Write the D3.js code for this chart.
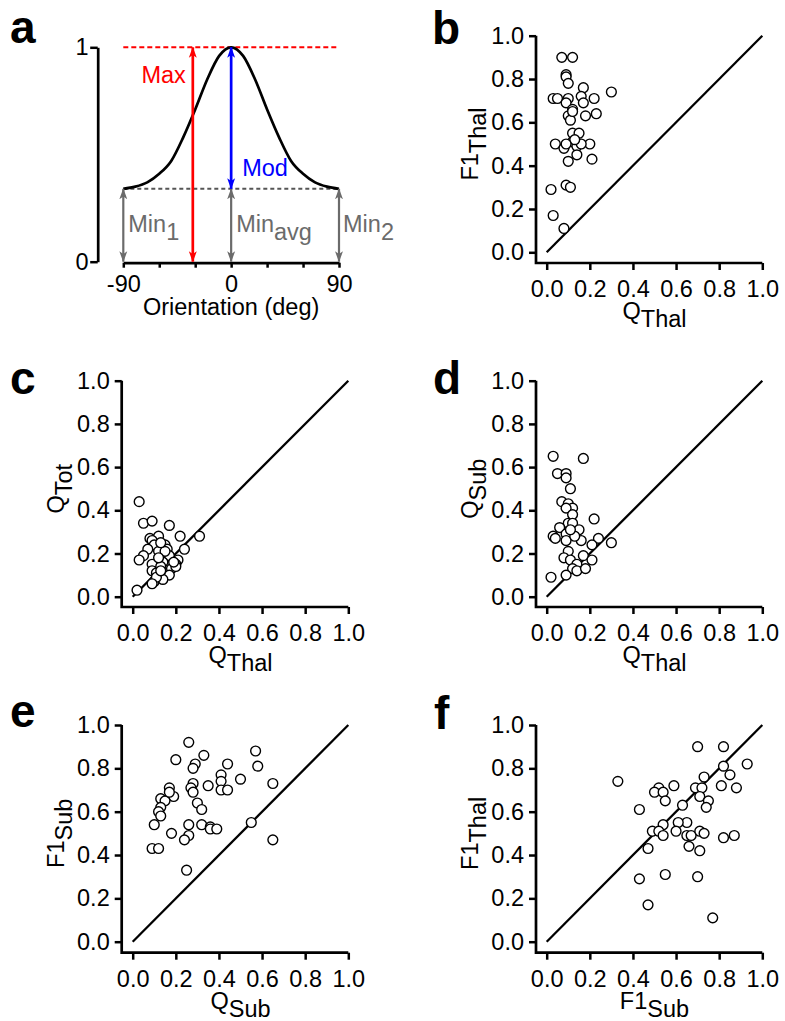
<!DOCTYPE html>
<html>
<head>
<meta charset="utf-8">
<script src="https://cdn.jsdelivr.net/npm/d3@7.9.0/dist/d3.min.js"></script>
<style>
  body { margin: 0; background: #fff; }
  svg { display: block; font-family: Arial, "Liberation Sans", Helvetica, sans-serif; }
</style>
</head>
<body>
<svg id="fig" width="785" height="1021"></svg>
<script>
// ------------------------------------------------------------------
// Data
// ------------------------------------------------------------------

// panel a: schematic tuning curve
const tuningAngles = [-90, -80, -70, -60, -50, -40, -30, -20, -10, 0, 10, 20, 30, 40, 50, 60, 70, 80, 90];
const tuningValues = [0.34, 0.35, 0.37, 0.41, 0.47, 0.58, 0.71, 0.85, 0.96, 1.0, 0.96, 0.85, 0.71, 0.58, 0.47, 0.41, 0.37, 0.35, 0.34];
const minLevel = 0.34;
const maxArrowAngle = -32;
const minArrowAngles = [-90, 0, 90];
const orientationTicks = [-90, -60, -30, 0, 30, 60, 90];
const orientationLabels = [-90, 0, 90];

const unitTicks = [0, 0.2, 0.4, 0.6, 0.8, 1.0];

// panel b: Q_Thal vs F1_Thal
const panelB = [
  [0.07, 0.90], [0.12, 0.90], [0.09, 0.82], [0.09, 0.81], [0.10, 0.78], [0.17, 0.76],
  [0.30, 0.74], [0.03, 0.71], [0.05, 0.71], [0.10, 0.71], [0.09, 0.69], [0.16, 0.72],
  [0.22, 0.71], [0.17, 0.69], [0.12, 0.66], [0.23, 0.64], [0.18, 0.63], [0.10, 0.63],
  [0.11, 0.61], [0.12, 0.55], [0.15, 0.55], [0.04, 0.50], [0.08, 0.48], [0.12, 0.51],
  [0.14, 0.49], [0.20, 0.50], [0.16, 0.50], [0.14, 0.45], [0.10, 0.42], [0.21, 0.43],
  [0.09, 0.31], [0.11, 0.30], [0.02, 0.29], [0.03, 0.17], [0.08, 0.11], [0.13, 0.52],
  [0.09, 0.50], [0.12, 0.65]
];

// panel c: Q_Thal vs Q_Tot
const panelC = [
  [0.03, 0.44], [0.05, 0.34], [0.09, 0.35], [0.17, 0.33], [0.22, 0.28], [0.31, 0.28],
  [0.08, 0.27], [0.12, 0.28], [0.09, 0.26], [0.15, 0.24], [0.10, 0.24], [0.07, 0.22],
  [0.24, 0.22], [0.16, 0.22], [0.12, 0.21], [0.05, 0.19], [0.03, 0.17], [0.09, 0.15],
  [0.17, 0.19], [0.14, 0.16], [0.21, 0.17], [0.20, 0.15], [0.13, 0.14], [0.09, 0.12],
  [0.11, 0.11], [0.18, 0.13], [0.20, 0.14], [0.17, 0.10], [0.10, 0.07], [0.14, 0.08],
  [0.11, 0.09], [0.09, 0.06], [0.02, 0.03], [0.13, 0.12], [0.15, 0.21], [0.13, 0.25],
  [0.19, 0.16], [0.12, 0.18]
];

// panel d: Q_Thal vs Q_Sub
const panelD = [
  [0.03, 0.65], [0.17, 0.64], [0.05, 0.57], [0.09, 0.57], [0.09, 0.55], [0.11, 0.50],
  [0.07, 0.44], [0.10, 0.43], [0.12, 0.41], [0.09, 0.41], [0.12, 0.38], [0.22, 0.36],
  [0.10, 0.34], [0.12, 0.34], [0.06, 0.32], [0.15, 0.31], [0.03, 0.28], [0.04, 0.27],
  [0.09, 0.29], [0.09, 0.26], [0.16, 0.26], [0.24, 0.27], [0.30, 0.25], [0.21, 0.24],
  [0.10, 0.21], [0.08, 0.18], [0.11, 0.17], [0.17, 0.19], [0.21, 0.17], [0.14, 0.15],
  [0.12, 0.13], [0.14, 0.12], [0.18, 0.13], [0.09, 0.10], [0.02, 0.09], [0.13, 0.28],
  [0.11, 0.31]
];

// panel e: Q_Sub vs F1_Sub
const panelE = [
  [0.26, 0.92], [0.33, 0.86], [0.57, 0.88], [0.20, 0.84], [0.29, 0.82], [0.28, 0.80],
  [0.44, 0.82], [0.58, 0.81], [0.41, 0.77], [0.50, 0.75], [0.41, 0.74], [0.65, 0.73],
  [0.28, 0.73], [0.27, 0.71], [0.35, 0.72], [0.17, 0.71], [0.41, 0.70], [0.44, 0.70],
  [0.28, 0.69], [0.19, 0.67], [0.13, 0.66], [0.15, 0.65], [0.17, 0.69], [0.30, 0.64],
  [0.13, 0.62], [0.32, 0.61], [0.12, 0.60], [0.13, 0.58], [0.10, 0.54], [0.26, 0.54],
  [0.32, 0.54], [0.36, 0.53], [0.36, 0.52], [0.39, 0.52], [0.55, 0.55], [0.18, 0.50],
  [0.26, 0.49], [0.24, 0.47], [0.65, 0.47], [0.09, 0.43], [0.12, 0.43], [0.25, 0.33]
];

// panel f: F1_Sub vs F1_Thal
const panelF = [
  [0.70, 0.90], [0.82, 0.90], [0.93, 0.82], [0.82, 0.81], [0.85, 0.77], [0.73, 0.76],
  [0.33, 0.74], [0.88, 0.71], [0.81, 0.72], [0.69, 0.71], [0.72, 0.71], [0.59, 0.72],
  [0.52, 0.71], [0.50, 0.69], [0.54, 0.69], [0.71, 0.67], [0.75, 0.65], [0.55, 0.65],
  [0.63, 0.63], [0.74, 0.62], [0.43, 0.61], [0.65, 0.55], [0.61, 0.55], [0.54, 0.54],
  [0.49, 0.51], [0.52, 0.51], [0.54, 0.49], [0.60, 0.51], [0.65, 0.49], [0.67, 0.49],
  [0.71, 0.51], [0.73, 0.50], [0.82, 0.48], [0.87, 0.49], [0.66, 0.44], [0.71, 0.42],
  [0.47, 0.43], [0.43, 0.29], [0.55, 0.31], [0.70, 0.30], [0.47, 0.17], [0.77, 0.11]
];

// ------------------------------------------------------------------
// Layout
// ------------------------------------------------------------------
const FS = 23.5;
const cols = [
  { x0: 132.7, x1: 348.3, axis: 121.7 },
  { x0: 546.7, x1: 762.3, axis: 536 }
];
const rows = [
  { y0: 252.3, y1: 35.7, axis: 263 },
  { y0: 596.7, y1: 380.7, axis: 607 },
  { y0: 941.7, y1: 725, axis: 952.7 }
];

const svg = d3.select('#fig');

function panelLetter(text, x, y) {
  svg.append('text')
    .attr('x', x).attr('y', y)
    .attr('font-size', 46).attr('font-weight', 'bold')
    .text(text);
}

function subLabel(sel, main, sub) {
  sel.append('tspan').text(main);
  sel.append('tspan').attr('dy', 8).text(sub);
}

function styleAxis(g, keepDomain) {
  g.attr('font-family', null).attr('font-size', null);
  if (!keepDomain) g.select('.domain').remove();
  g.select('.domain').attr('stroke-width', 2.7);
  g.selectAll('.tick line').attr('stroke-width', 2.5);
  g.selectAll('.tick text').attr('font-size', FS).attr('fill', '#000');
}

// ------------------------------------------------------------------
// Scatter panels
// ------------------------------------------------------------------
function scatterPanel(opts) {
  const col = cols[opts.col];
  const row = rows[opts.row];
  const x = d3.scaleLinear().domain([0, 1]).range([col.x0, col.x1]);
  const y = d3.scaleLinear().domain([0, 1]).range([row.y0, row.y1]);
  const g = svg.append('g');

  g.append('g')
    .attr('transform', `translate(${col.axis},0)`)
    .call(d3.axisLeft(y).tickValues(unitTicks).tickFormat(d3.format('.1f'))
      .tickSize(7).tickPadding(5).tickSizeOuter(0))
    .call(styleAxis, false);

  g.append('g')
    .attr('transform', `translate(0,${row.axis})`)
    .call(d3.axisBottom(x).tickValues(unitTicks).tickFormat(d3.format('.1f'))
      .tickSize(7).tickPadding(10.3).tickSizeOuter(0))
    .call(styleAxis, false);

  // L-shaped axis lines
  g.append('path')
    .attr('d', `M${col.axis},${y(1)}V${row.axis}H${x(1)}`)
    .attr('fill', 'none')
    .attr('stroke', '#000')
    .attr('stroke-width', 2.7);

  // identity line
  g.append('line')
    .attr('x1', x(0)).attr('y1', y(0))
    .attr('x2', x(1)).attr('y2', y(1))
    .attr('stroke', '#000')
    .attr('stroke-width', 2.3);

  g.selectAll('circle')
    .data(opts.points)
    .join('circle')
    .attr('cx', d => x(d[0]))
    .attr('cy', d => y(d[1]))
    .attr('r', 4.9)
    .attr('fill', '#fff')
    .attr('stroke', '#000')
    .attr('stroke-width', 1.4);

  // axis titles
  g.append('text')
    .attr('x', (col.x0 + col.x1) / 2)
    .attr('y', row.axis + 56)
    .attr('text-anchor', 'middle')
    .attr('font-size', FS)
    .call(subLabel, opts.xLabel[0], opts.xLabel[1]);

  g.append('text')
    .attr('transform', `translate(${col.axis - 58},${(row.y0 + row.y1) / 2}) rotate(-90)`)
    .attr('text-anchor', 'middle')
    .attr('font-size', FS)
    .call(subLabel, opts.yLabel[0], opts.yLabel[1]);

  panelLetter(opts.letter, opts.lx, opts.ly);
}

scatterPanel({ letter: 'b', col: 1, row: 0, points: panelB, xLabel: ['Q', 'Thal'], yLabel: ['F1', 'Thal'], lx: 432, ly: 44 });
scatterPanel({ letter: 'c', col: 0, row: 1, points: panelC, xLabel: ['Q', 'Thal'], yLabel: ['Q', 'Tot'], lx: 10, ly: 394 });
scatterPanel({ letter: 'd', col: 1, row: 1, points: panelD, xLabel: ['Q', 'Thal'], yLabel: ['Q', 'Sub'], lx: 433, ly: 394 });
scatterPanel({ letter: 'e', col: 0, row: 2, points: panelE, xLabel: ['Q', 'Sub'], yLabel: ['F1', 'Sub'], lx: 10, ly: 727 });
scatterPanel({ letter: 'f', col: 1, row: 2, points: panelF, xLabel: ['F1', 'Sub'], yLabel: ['F1', 'Thal'], lx: 434, ly: 729 });

// ------------------------------------------------------------------
// Panel a: tuning curve schematic
// ------------------------------------------------------------------
const xA = d3.scaleLinear().domain([-90, 90]).range([123.3, 339]);
const yA = d3.scaleLinear().domain([0, 1]).range([261.7, 47.3]);
const gA = svg.append('g');

const RED = '#ff0000', BLUE = '#0000ff', GREY = '#6b6b6b';

const defs = svg.append('defs');
[['red', RED], ['blue', BLUE], ['grey', GREY]].forEach(([id, c]) => {
  defs.append('marker')
    .attr('id', 'head-' + id)
    .attr('viewBox', '0 -5 10 10')
    .attr('refX', 9.5).attr('refY', 0)
    .attr('markerUnits', 'userSpaceOnUse')
    .attr('markerWidth', 11).attr('markerHeight', 11)
    .attr('orient', 'auto-start-reverse')
    .append('path')
    .attr('d', 'M0,-3.6L10,0L0,3.6L2.5,0Z')
    .attr('fill', c);
});

gA.append('g')
  .attr('transform', 'translate(97.7,0)')
  .call(d3.axisLeft(yA).tickValues([0, 1]).tickFormat(d3.format('d'))
    .tickSize(7.5).tickPadding(1.5).tickSizeOuter(0))
  .call(styleAxis, true);

gA.append('g')
  .attr('transform', `translate(0,${yA(0) + 1})`)
  .call(d3.axisBottom(xA).tickValues(orientationTicks)
    .tickFormat(d => orientationLabels.includes(d) ? String(d) : '')
    .tickSize(5).tickPadding(7.6).tickSizeOuter(0))
  .call(styleAxis, true);

gA.append('text')
  .attr('x', xA(0)).attr('y', 315)
  .attr('text-anchor', 'middle')
  .attr('font-size', FS)
  .text('Orientation (deg)');

// reference levels
gA.append('line')
  .attr('x1', xA(-90)).attr('x2', xA(90))
  .attr('y1', yA(1)).attr('y2', yA(1))
  .attr('stroke', RED).attr('stroke-width', 2)
  .attr('stroke-dasharray', '5,3');

gA.append('line')
  .attr('x1', xA(-90)).attr('x2', xA(90))
  .attr('y1', yA(minLevel)).attr('y2', yA(minLevel))
  .attr('stroke', '#555').attr('stroke-width', 2)
  .attr('stroke-dasharray', '4,3');

// tuning curve
gA.append('path')
  .datum(d3.zip(tuningAngles, tuningValues))
  .attr('d', d3.line().x(d => xA(d[0])).y(d => yA(d[1])).curve(d3.curveMonotoneX))
  .attr('fill', 'none')
  .attr('stroke', '#000')
  .attr('stroke-width', 2.7);

function arrow(x, v0, v1, color, id, w) {
  gA.append('line')
    .attr('x1', xA(x)).attr('x2', xA(x))
    .attr('y1', yA(v0)).attr('y2', yA(v1))
    .attr('stroke', color).attr('stroke-width', w)
    .attr('marker-start', `url(#head-${id})`)
    .attr('marker-end', `url(#head-${id})`);
}

minArrowAngles.forEach(a => arrow(a, 0, minLevel, GREY, 'grey', 2.2));
arrow(maxArrowAngle, 0, 1, RED, 'red', 2.7);
arrow(0, 1, minLevel, BLUE, 'blue', 2.7);

gA.append('text')
  .attr('x', xA(maxArrowAngle) - 7).attr('y', yA(0.835))
  .attr('text-anchor', 'end').attr('font-size', FS).attr('fill', RED)
  .text('Max');

gA.append('text')
  .attr('x', xA(0) + 11).attr('y', yA(0.4))
  .attr('font-size', FS).attr('fill', BLUE)
  .text('Mod');

[[-90, 5, '1'], [0, 5, 'avg'], [90, 4, '2']].forEach(([a, off, sub]) => {
  gA.append('text')
    .attr('x', xA(a) + off).attr('y', yA(0.14))
    .attr('font-size', FS).attr('fill', GREY)
    .call(subLabel, 'Min', sub);
});

panelLetter('a', 10, 43);
</script>
</body>
</html>
